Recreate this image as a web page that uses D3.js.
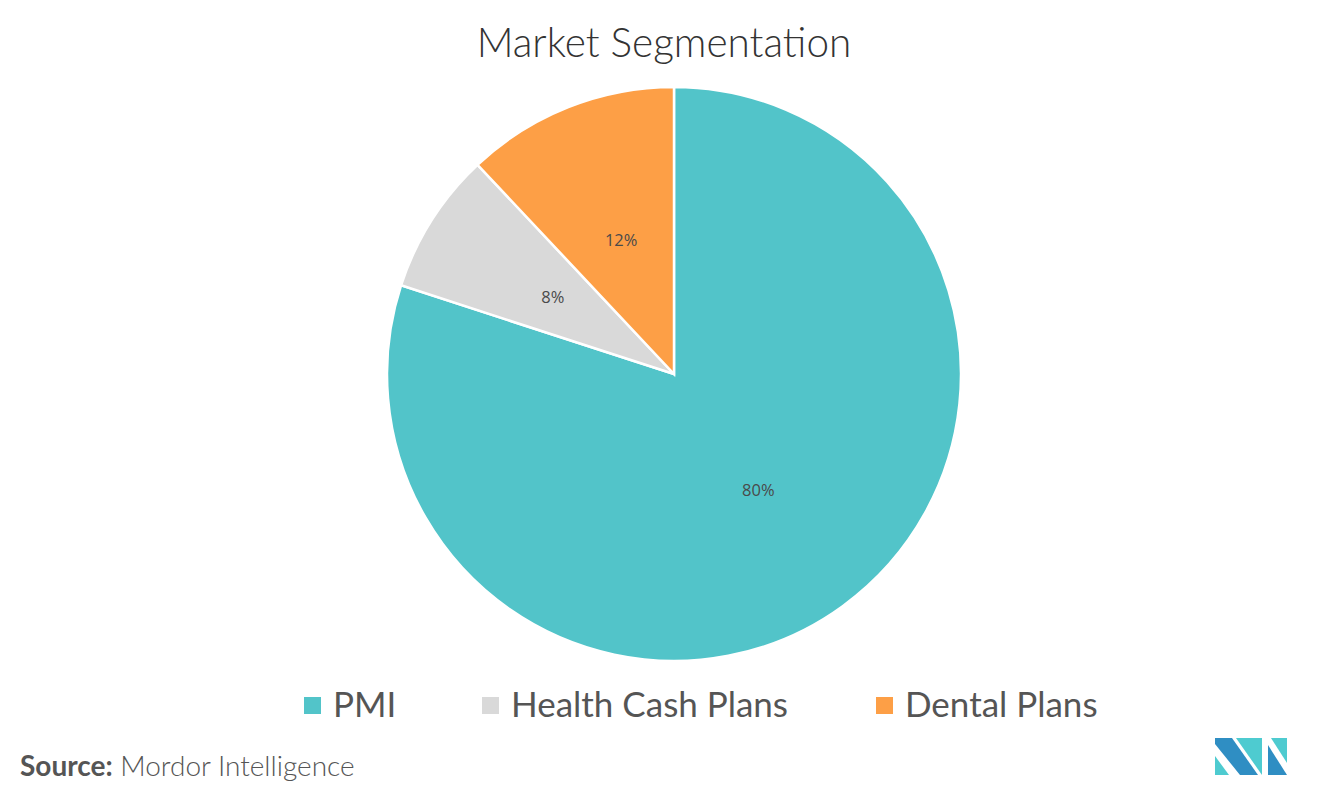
<!DOCTYPE html>
<html>
<head>
<meta charset="utf-8">
<script src="https://cdn.jsdelivr.net/npm/d3@7"></script>
<style>
  body { margin: 0; background: #fff; }
  text { font-family: Lato, 'Open Sans', sans-serif; }
</style>
</head>
<body>
<script>
// data
var segments = ['PMI', 'Health Cash Plans', 'Dental Plans']
var shares = [80, 8, 12]
var colors = ['#52c4c9', '#d9d9d9', '#fd9f46']

var width = 1324
var height = 803
var cx = 674
var cy = 374
var radius = 287

var svg = d3.select('body').append('svg')
    .attr('width', width)
    .attr('height', height)

svg.append('text')
    .attr('x', 664)
    .attr('y', 57)
    .attr('text-anchor', 'middle')
    .attr('font-size', 40.5)
    .attr('font-weight', 300)
    .attr('fill', '#333')
    .text('Market Segmentation')

var pie = d3.pie().sort(null).value(d => d)
var arcs = pie(shares)
var arc = d3.arc().innerRadius(0).outerRadius(radius)
var labelArc = d3.arc().innerRadius(radius / 2).outerRadius(radius / 2)

var g = svg.append('g').attr('transform', 'translate(' + cx + ',' + cy + ')')

g.selectAll('path')
    .data(arcs)
    .enter()
    .append('path')
        .attr('d', arc)
        .attr('fill', (d, i) => colors[i])
        .attr('stroke', '#fff')
        .attr('stroke-width', 2.5)

g.selectAll('text.lbl')
    .data(arcs)
    .enter()
    .append('text')
        .classed('lbl', true)
        .attr('transform', d => 'translate(' + labelArc.centroid(d) + ')')
        .attr('text-anchor', 'middle')
        .attr('dy', '0.35em')
        .attr('font-size', 16.5)
        .attr('fill', '#4a4a4a')
        .style('font-family', "'Open Sans', sans-serif")
        .text(d => d.data + '%')

// legend
var legendX = [304, 482, 876]
var legend = svg.append('g')
segments.forEach(function(label, i) {
    legend.append('rect')
        .attr('x', legendX[i])
        .attr('y', 697)
        .attr('width', 17)
        .attr('height', 17)
        .attr('fill', colors[i])
    legend.append('text')
        .attr('x', legendX[i] + 29)
        .attr('y', 717)
        .attr('font-size', 35)
        .attr('fill', '#555')
        .text(label)
})

// source
var source = svg.append('text')
    .attr('x', 20)
    .attr('y', 776)
    .attr('font-size', 28)
    .attr('fill', '#555')
source.append('tspan').attr('font-weight', 'bold').text('Source:')
source.append('tspan').attr('font-weight', 300).text(' Mordor Intelligence')

// logo
var logo = svg.append('g')
var dark = '#2f8ec3'
var teal = '#4ecbd0'
logo.append('polygon').attr('points', '1215,738 1232,738 1258,775 1240,775 1215,744').attr('fill', dark)
logo.append('polygon').attr('points', '1215,756 1229,775 1215,775').attr('fill', teal)
logo.append('polygon').attr('points', '1236,738 1262,738 1262,775').attr('fill', teal)
logo.append('polygon').attr('points', '1268,745 1287,775 1268,775').attr('fill', dark)
logo.append('polygon').attr('points', '1271,738 1287,738 1287,763').attr('fill', teal)
</script>
</body>
</html>
